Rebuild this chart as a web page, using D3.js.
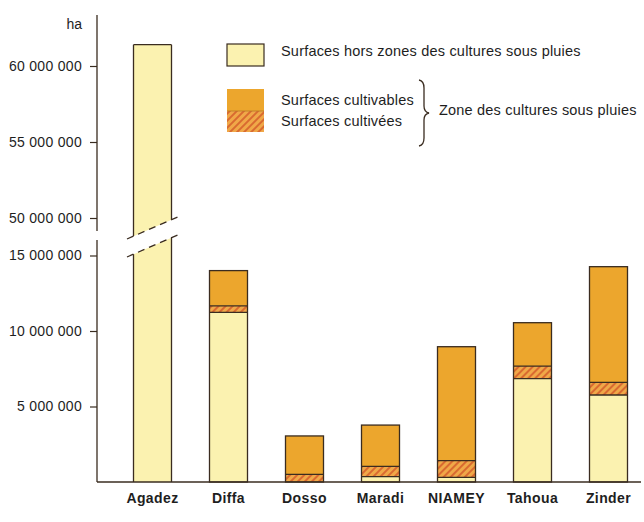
<!DOCTYPE html>
<html><head><meta charset="utf-8">
<script src="https://cdn.jsdelivr.net/npm/d3@7"></script>
<style>
html,body{margin:0;padding:0;background:#fff;}
svg{display:block;}
text{font-family:"Liberation Sans",Arial,sans-serif;fill:#1e1e1e;}
</style></head>
<body><svg id="c" width="644" height="522"></svg>
<script>
const regions = ["Agadez","Diffa","Dosso","Maradi","NIAMEY","Tahoua","Zinder"];
const horsZone = [61400000, 11240000, 0, 350000, 310000, 6840000, 5760000];
const cultivables = [0, 2760000, 3050000, 3420000, 8650000, 3710000, 8500000];
const cultivees = [0, 420000, 500000, 680000, 1100000, 840000, 840000];
const yTicksLow = [5000000, 10000000, 15000000];
const yTicksHigh = [50000000, 55000000, 60000000];
const legendLabels = ["Surfaces hors zones des cultures sous pluies","Surfaces cultivables","Surfaces cultivées","Zone des cultures sous pluies"];

const svg = d3.select("#c");
const C_YEL = "#fbf2b0", C_OR = "#eca62d", C_LINE = "#3a2c20";
const defs = svg.append("defs");
const pat = defs.append("pattern").attr("id","hatch").attr("patternUnits","userSpaceOnUse")
  .attr("width",5).attr("height",5).attr("patternTransform","rotate(45)");
pat.append("rect").attr("width",5).attr("height",5).attr("fill","#f0a848");
pat.append("rect").attr("width",2).attr("height",5).attr("fill","#d96a30");

const axisX = 97, baseY = 482;
const x = d3.scaleBand().domain(regions).range([114.5, 646.5]).paddingInner(0.5).paddingOuter(0.25);
const yLow = d3.scaleLinear().domain([0, 15000000]).range([baseY, 255.5]);
const yHigh = d3.scaleLinear().domain([50000000, 60000000]).range([218, 66]);
const BREAK = 15500000;
const loc = d3.formatLocale({decimal:",", thousands:" ", grouping:[3], currency:["",""]});
const fmt = loc.format(",d");

// axes
const axL = svg.append("g").attr("transform",`translate(${axisX},0)`)
  .call(d3.axisLeft(yLow).tickValues(yTicksLow).tickSize(7).tickPadding(8).tickFormat(fmt));
const axH = svg.append("g").attr("transform",`translate(${axisX},0)`)
  .call(d3.axisLeft(yHigh).tickValues(yTicksHigh).tickSize(7).tickPadding(8).tickFormat(fmt));
[axL, axH].forEach(g => {
  g.select(".domain").remove();
  g.selectAll(".tick line").attr("stroke", C_LINE).attr("stroke-width",1.2);
  g.selectAll(".tick text").attr("font-size",14).attr("letter-spacing","0.3px")
    .attr("font-family",'"Liberation Sans",Arial,sans-serif').attr("fill","#1e1e1e");
});
svg.append("line").attr("x1",axisX).attr("x2",axisX).attr("y1",15).attr("y2",231).attr("stroke",C_LINE).attr("stroke-width",1.3);
svg.append("line").attr("x1",axisX).attr("x2",axisX).attr("y1",240).attr("y2",baseY).attr("stroke",C_LINE).attr("stroke-width",1.3);
svg.append("text").attr("x",82).attr("y",29).attr("text-anchor","end").attr("font-size",14).text("ha");

// bars
const slope = 23/53;
const bw = x.bandwidth();
regions.forEach((r,i) => {
  const x0 = x(r), x1 = x0 + bw;
  const h = horsZone[i], cv = cultivees[i], cb = cultivables[i];
  const g = svg.append("g");
  if (h > BREAK) {
    const yLowAt = xx => 257 - (xx - 127) * slope;
    const yUpAt = xx => 239 - (xx - 127) * slope;
    const top = yHigh(h);
    g.append("path").attr("d", `M${x0},${baseY}L${x1},${baseY}L${x1},${yLowAt(x1)}L${x0},${yLowAt(x0)}Z`).attr("fill",C_YEL);
    g.append("path").attr("d", `M${x0},${yUpAt(x0)}L${x1},${yUpAt(x1)}L${x1},${top}L${x0},${top}Z`).attr("fill",C_YEL);
    const ln = (a,b,c,d) => g.append("line").attr("x1",a).attr("y1",b).attr("x2",c).attr("y2",d).attr("stroke",C_LINE).attr("stroke-width",1.3);
    ln(x0,baseY,x0,yLowAt(x0)); ln(x1,baseY,x1,yLowAt(x1));
    ln(x0,yUpAt(x0),x0,top); ln(x1,yUpAt(x1),x1,top); ln(x0,top,x1,top);
    ln(127,257,181,257-54*slope).attr("stroke-dasharray","7,5");
    ln(127,239,181,239-54*slope).attr("stroke-dasharray","7,5");
  } else {
    const yTop = yLow(h + cb), yH = yLow(h), yC = yLow(h + cv);
    if (h > 0) g.append("rect").attr("x",x0).attr("width",bw).attr("y",yH).attr("height",baseY - yH).attr("fill",C_YEL);
    g.append("rect").attr("x",x0).attr("width",bw).attr("y",yC).attr("height",yH - yC).attr("fill","url(#hatch)");
    g.append("rect").attr("x",x0).attr("width",bw).attr("y",yTop).attr("height",yC - yTop).attr("fill",C_OR);
    if (h > 0) g.append("line").attr("x1",x0).attr("x2",x1).attr("y1",yH).attr("y2",yH).attr("stroke",C_LINE).attr("stroke-width",1.3);
    g.append("line").attr("x1",x0).attr("x2",x1).attr("y1",yC).attr("y2",yC).attr("stroke",C_LINE).attr("stroke-width",1.3);
    g.append("rect").attr("x",x0).attr("width",bw).attr("y",yTop).attr("height",baseY - yTop)
      .attr("fill","none").attr("stroke",C_LINE).attr("stroke-width",1.3);
  }
});

// x axis baseline and labels
svg.append("line").attr("x1",axisX).attr("x2",641).attr("y1",baseY).attr("y2",baseY).attr("stroke",C_LINE).attr("stroke-width",1.4);
svg.append("g").selectAll("text").data(regions).join("text")
  .attr("x", d => x(d) + bw/2).attr("y", 503).attr("text-anchor","middle")
  .attr("font-size",14).attr("font-weight","bold").attr("letter-spacing","0.4px").text(d => d);

// legend
const lg = svg.append("g");
lg.append("rect").attr("x",227).attr("y",44).attr("width",37).attr("height",22).attr("fill",C_YEL).attr("stroke",C_LINE).attr("stroke-width",1.2);
lg.append("rect").attr("x",227).attr("y",89).attr("width",37).attr("height",22).attr("fill",C_OR);
lg.append("rect").attr("x",227).attr("y",111).attr("width",37).attr("height",21).attr("fill","url(#hatch)");
lg.append("line").attr("x1",227).attr("x2",264).attr("y1",111).attr("y2",111).attr("stroke","#b57a2a").attr("stroke-width",0.8);
const lt = (tx,ty,s) => lg.append("text").attr("x",tx).attr("y",ty).attr("font-size",14.5).attr("letter-spacing","0.2px").text(s);
lt(281,56,legendLabels[0]);
lt(281,105,legendLabels[1]);
lt(281,126,legendLabels[2]);
lt(439,115,legendLabels[3]);
// brace
lg.append("path").attr("d","M419,80 Q424,81 424,88 L424,106 Q424,112 429,113 Q424,114 424,120 L424,138 Q424,145 419,146")
  .attr("fill","none").attr("stroke",C_LINE).attr("stroke-width",1.3);
</script></body></html>
